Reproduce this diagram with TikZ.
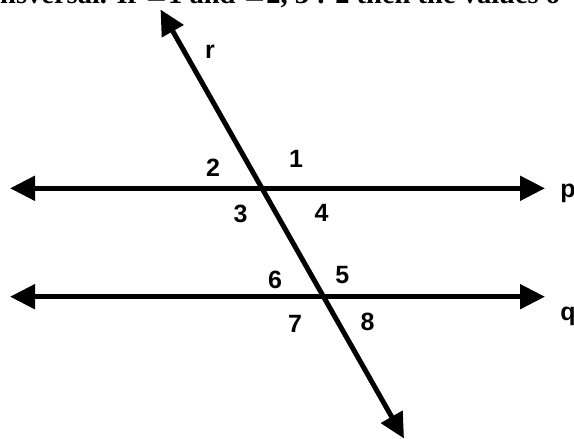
\documentclass[tikz,border=0pt]{standalone}
\usepackage{fontspec}
\setmainfont{Liberation Sans}
\newfontfamily\serifbold{Liberation Serif}
\newfontfamily\symfont{DejaVu Serif}
\usetikzlibrary{arrows.meta}
\tikzset{
  line/.style={line width=5pt, {Triangle[length=25pt,width=24pt]}-{Triangle[length=25pt,width=24pt]}},
  lbl/.style={font=\fontsize{25}{25}\selectfont\bfseries, anchor=base, inner sep=0pt},
  toptext/.style={anchor=south west, inner sep=0pt}
}
\begin{document}
\begin{tikzpicture}[x=1pt,y=-1pt]
\useasboundingbox (0,0) rectangle (574,439);
\begin{scope}
\clip (0,0) rectangle (574,439);
\node[toptext] (top) at (0,8) {\serifbold\fontsize{28.5}{29}\selectfont\bfseries nsversal. If {\symfont ∠}1 and {\symfont ∠}2, 3 : 2 then the values o};
\end{scope}
\coordinate (pL) at (10,188.3);
\coordinate (pR) at (545,188.3);
\coordinate (qL) at (10,296.7);
\coordinate (qR) at (545,296.7);
\coordinate (rT) at (160.5,9.5);
\coordinate (rB) at (404,438.5);
\draw[line] (pL) -- (pR);
\draw[line] (qL) -- (qR);
\draw[line] (rB) -- (rT);
\node[lbl] (lp) at (568,197) {p};
\node[lbl] (lq) at (568,320) {q};
\node[lbl] (lr) at (210,59) {r};
\node[lbl] (a1) at (296,167.3) {1};
\node[lbl] (a2) at (213,176.7) {2};
\node[lbl] (a3) at (240.7,222.3) {3};
\node[lbl] (a4) at (321.7,221.7) {4};
\node[lbl] (a5) at (342.3,283.3) {5};
\node[lbl] (a6) at (275,288.3) {6};
\node[lbl] (a7) at (295,332.7) {7};
\node[lbl] (a8) at (367.7,330) {8};
\end{tikzpicture}
\end{document}
